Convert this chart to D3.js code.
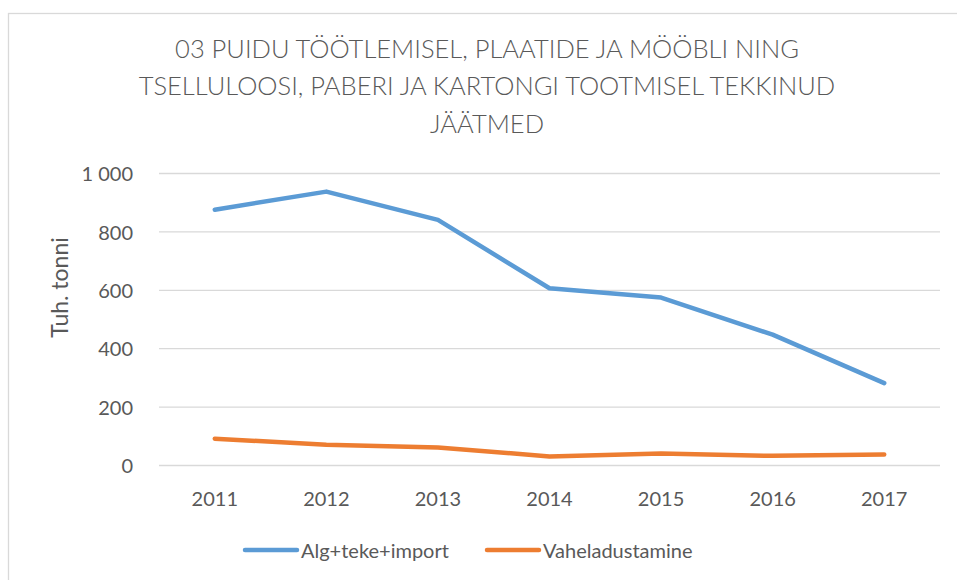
<!DOCTYPE html>
<html>
<head>
<meta charset="utf-8">
<script src="https://cdn.jsdelivr.net/npm/d3@7"></script>
<style>
  body { margin: 0; background: #fff; }
  svg { display: block; font-family: Lato, "Open Sans", sans-serif; }
</style>
</head>
<body>
<div id="chart"></div>
<script>
// Data
const years = ["2011", "2012", "2013", "2014", "2015", "2016", "2017"];
const algTekeImport = [876, 938, 841, 607, 575, 448, 282];
const vaheladustamine = [92, 71, 62, 31, 41, 33, 38];
const yTicks = [0, 200, 400, 600, 800, 1000];
const seriesNames = ["Alg+teke+import", "Vaheladustamine"];
const titleLines = [
    "03 PUIDU TÖÖTLEMISEL, PLAATIDE JA MÖÖBLI NING",
    "TSELLULOOSI, PABERI JA KARTONGI TOOTMISEL TEKKINUD",
    "JÄÄTMED"
];

const width = 957;
const height = 580;
const margin = { top: 173.5, right: 17, bottom: 114.5, left: 159 };
const textColor = "#595959";
const colors = ["#5b9bd5", "#ed7d31"];

const svg = d3.select("#chart")
    .append("svg")
    .attr("width", width)
    .attr("height", height);

// Chart area border
svg.append("rect")
    .attr("x", 8.5)
    .attr("y", 13.5)
    .attr("width", 1000)
    .attr("height", 1000)
    .attr("fill", "#fff")
    .attr("stroke", "#d9d9d9")
    .attr("stroke-width", 1.3);

// Title
svg.append("g")
    .selectAll("text")
    .data(titleLines)
    .enter().append("text")
    .attr("x", 487)
    .attr("y", (d, i) => 58 + i * 37.3)
    .attr("text-anchor", "middle")
    .style("font-size", "25.5px")
    .style("font-weight", 300)
    .style("fill", textColor)
    .text(d => d);

const x = d3.scaleBand()
    .domain(years)
    .range([margin.left, width - margin.right]);

const y = d3.scaleLinear()
    .domain([0, 1000])
    .range([height - margin.bottom, margin.top]);

// Gridlines
svg.append("g")
    .selectAll("line")
    .data(yTicks)
    .enter().append("line")
    .attr("x1", margin.left)
    .attr("x2", width - margin.right)
    .attr("y1", d => y(d))
    .attr("y2", d => y(d))
    .attr("stroke", "#d9d9d9")
    .attr("stroke-width", 1.3);

// Y axis labels
const yAxis = svg.append("g")
    .attr("transform", `translate(${margin.left - 23},0)`)
    .call(d3.axisLeft(y)
        .tickValues(yTicks)
        .tickSize(0)
        .tickFormat(d => d3.format(",")(d).replace(",", " ")));
yAxis.select(".domain").remove();
yAxis.selectAll("text")
    .attr("dy", "0.36em")
    .style("font-family", "Lato, 'Open Sans', sans-serif")
    .style("font-size", "20px")
    .style("fill", textColor);

// X axis labels
const xAxis = svg.append("g")
    .attr("transform", `translate(0,${height - margin.bottom + 23})`)
    .call(d3.axisBottom(x).tickSize(0));
xAxis.select(".domain").remove();
xAxis.selectAll("text")
    .style("font-family", "Lato, 'Open Sans', sans-serif")
    .style("font-size", "20px")
    .style("fill", textColor);

// Y axis title
svg.append("text")
    .attr("transform", `translate(68,${(margin.top + height - margin.bottom) / 2 - 32}) rotate(-90)`)
    .attr("text-anchor", "middle")
    .style("font-size", "23px")
    .style("fill", textColor)
    .text("Tuh. tonni");

// Lines
const line = d3.line()
    .x((d, i) => x(years[i]) + x.bandwidth() / 2)
    .y(d => y(d));

[algTekeImport, vaheladustamine].forEach((values, k) => {
    svg.append("path")
        .datum(values)
        .attr("d", line)
        .attr("fill", "none")
        .attr("stroke", colors[k])
        .attr("stroke-width", 4.5)
        .attr("stroke-linecap", "round")
        .attr("stroke-linejoin", "round");
});

// Legend
const legendX = [245, 487];
const legend = svg.append("g")
    .selectAll("g")
    .data(seriesNames)
    .enter().append("g")
    .attr("transform", (d, i) => `translate(${legendX[i]},550)`);

legend.append("line")
    .attr("x1", 0)
    .attr("x2", 52)
    .attr("stroke", (d, i) => colors[i])
    .attr("stroke-width", 4.5)
    .attr("stroke-linecap", "round");

legend.append("text")
    .attr("x", 56)
    .attr("y", 8)
    .style("font-size", "20px")
    .style("fill", textColor)
    .text(d => d);
</script>
</body>
</html>
